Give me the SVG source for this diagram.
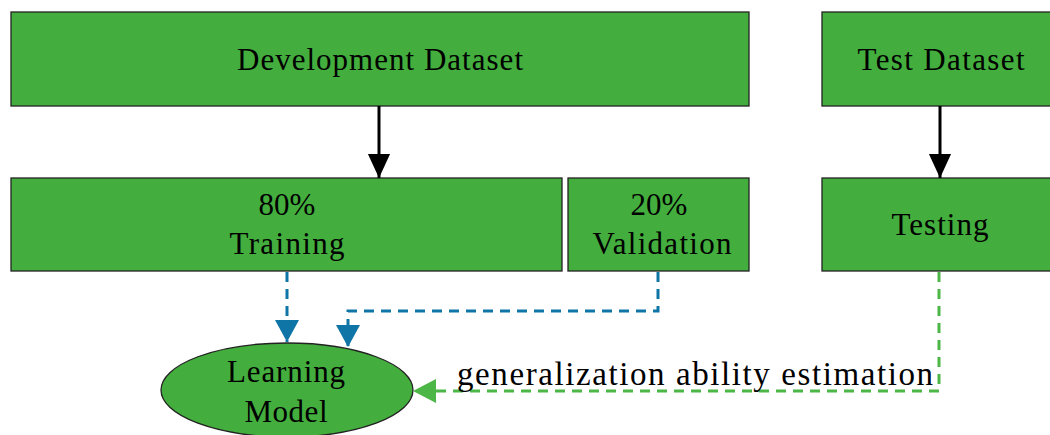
<svg xmlns="http://www.w3.org/2000/svg" width="1050" height="435" viewBox="0 0 1050 435">
<style>
.box{fill:#43AE3D;stroke:#222;stroke-width:1.3}
.t{font-family:"Liberation Serif","Times New Roman",serif;font-size:31px;fill:#000;text-anchor:middle}
.lbl{font-family:"Liberation Serif","Palatino Linotype",serif;font-size:33px;fill:#000}
.blk{stroke:#000;stroke-width:3;fill:none}
.blue{stroke:#0E75A6;stroke-width:3;fill:none;stroke-dasharray:10 7}
.grn{stroke:#4CB747;stroke-width:3;fill:none;stroke-dasharray:10 7}
</style>
<defs>
<marker id="ab" markerUnits="userSpaceOnUse" markerWidth="24" markerHeight="24" refX="26" refY="12" orient="auto" viewBox="0 0 26 24"><path d="M0,0 L26,12 L0,24 z" fill="#000"/></marker>
<marker id="au" markerUnits="userSpaceOnUse" markerWidth="22" markerHeight="24" refX="22" refY="12" orient="auto" viewBox="0 0 22 24"><path d="M0,0 L22,12 L0,24 z" fill="#0E75A6"/></marker>
<marker id="ag" markerUnits="userSpaceOnUse" markerWidth="23" markerHeight="24" refX="23" refY="12" orient="auto" viewBox="0 0 23 24"><path d="M0,0 L23,12 L0,24 z" fill="#4CB747"/></marker>
</defs>
<g id="dev"><rect class="box" x="11" y="12" width="738" height="94"/><text class="t" x="380" y="70" textLength="286" lengthAdjust="spacing">Development Dataset</text></g>
<g id="test"><rect class="box" x="822" y="12" width="240" height="94"/><text class="t" x="941" y="70" textLength="167" lengthAdjust="spacing">Test Dataset</text></g>
<g id="training"><rect class="box" x="11" y="178" width="551" height="93"/><text class="t" x="287" y="215">80%</text><text class="t" x="287" y="254" textLength="115" lengthAdjust="spacing">Training</text></g>
<g id="validation"><rect class="box" x="568" y="178" width="181" height="93"/><text class="t" x="659" y="215">20%</text><text class="t" x="662" y="254" textLength="139" lengthAdjust="spacing">Validation</text></g>
<g id="testing"><rect class="box" x="822" y="178" width="240" height="93"/><text class="t" x="940" y="235" textLength="97" lengthAdjust="spacing">Testing</text></g>
<g id="model"><ellipse class="box" cx="287" cy="390" rx="126" ry="47"/><text class="t" x="286" y="382" textLength="118" lengthAdjust="spacing">Learning</text><text class="t" x="286" y="422" textLength="83" lengthAdjust="spacing">Model</text></g>
<g id="connectors">
<path class="blk" d="M379,106 V178" marker-end="url(#ab)"/>
<path class="blk" d="M940,106 V178" marker-end="url(#ab)"/>
<path class="blue" d="M287,272 V342" marker-end="url(#au)"/>
<path class="blue" d="M658,272 V311 H348 V347" marker-end="url(#au)"/>
<path class="grn" d="M939,272 V391 H413" marker-end="url(#ag)"/>
<text class="lbl" x="457" y="385" textLength="476" lengthAdjust="spacing">generalization ability estimation</text>
</g>
</svg>
